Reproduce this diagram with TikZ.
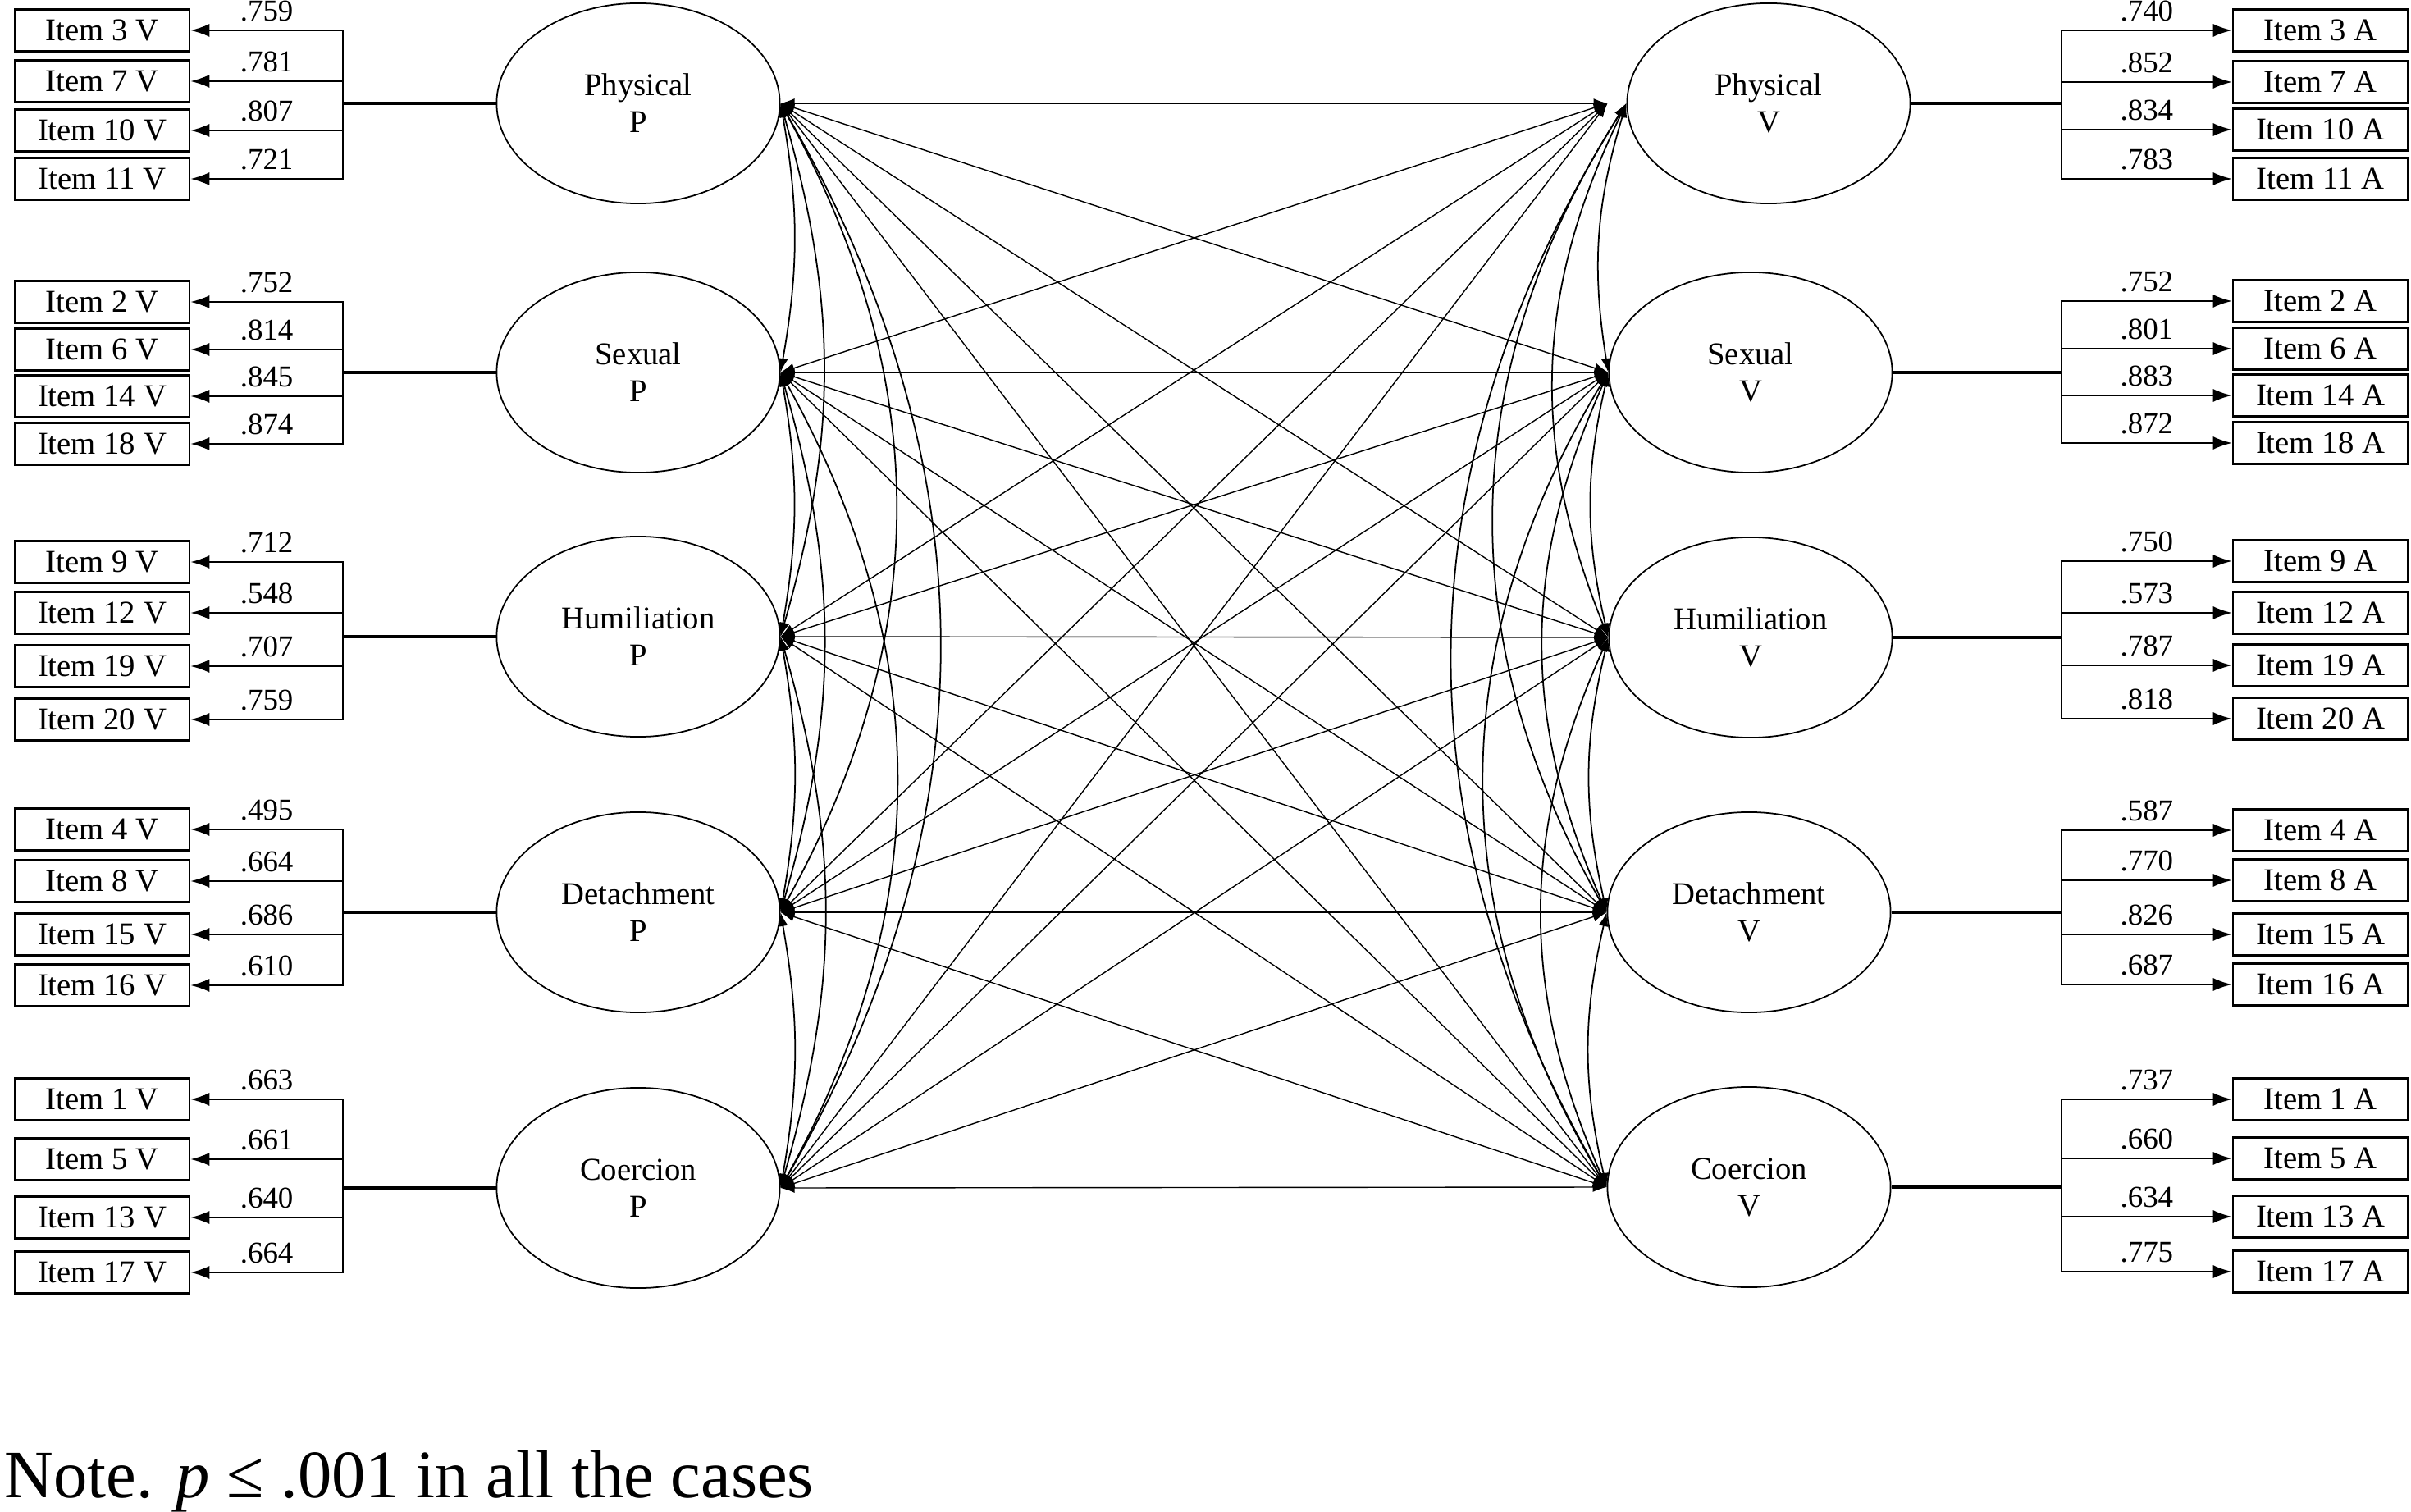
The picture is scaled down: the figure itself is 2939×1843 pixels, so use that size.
\documentclass[tikz,border=0pt]{standalone}
\usepackage{fontspec}
\setmainfont{Liberation Serif}
\usetikzlibrary{shapes.geometric,arrows.meta}

\begin{document}
\begin{tikzpicture}[x=0.01cm, y=-0.01cm,
    item/.style={draw, line width=0.7pt, minimum width=2.13cm, minimum height=0.51cm, inner sep=0pt, font=\fontsize{11}{13}\selectfont},
    factor/.style={draw, ellipse, line width=0.5pt, minimum width=3.45cm, minimum height=2.44cm, inner sep=0pt, align=center, font=\fontsize{11}{12.8}\selectfont},
    load/.style={-{Latex[length=0.23cm,width=0.16cm]}, line width=0.6pt},
    stem/.style={line width=1pt},
    cov/.style={<->, >={Latex[length=0.17cm,width=0.12cm]}, line width=0.4pt},
    coef/.style={pos=0.75, above, inner sep=0.1cm, font=\fontsize{10.5}{12}\selectfont}]

    \useasboundingbox (0,0) rectangle (2939,1843);

    % factors
    \foreach \n/\t/\y in {phys/Physical/126, sex/Sexual/454, hum/Humiliation/776, det/Detachment/1112, coe/Coercion/1448} {
      \node[factor] (\n P) at (778,\y) {\t\\P};
    }
    \foreach \n/\t/\x/\y in {phys/Physical/2156/126, sex/Sexual/2134/454, hum/Humiliation/2134/777, det/Detachment/2132/1112, coe/Coercion/2132/1447} {
      \node[factor] (\n V) at (\x,\y) {\t\\V};
    }

    % items on the left
    \foreach \n/\y/\list in {phys/126/{3/.759/37,7/.781/99,10/.807/159,11/.721/218},
                             sex/454/{2/.752/368,6/.814/426,14/.845/483,18/.874/541},
                             hum/776/{9/.712/685,12/.548/747,19/.707/812,20/.759/877},
                             det/1112/{4/.495/1011,8/.664/1074,15/.686/1139,16/.610/1201},
                             coe/1448/{1/.663/1340,5/.661/1413,13/.640/1484,17/.664/1551}} {
      \coordinate (\n Pj) at (418,\y);
      \draw[stem] (\n Pj) -- (\n P.west);
      \foreach \i/\c/\r in \list {
        \node[item] (\n P\i) at (124.5,\r) {Item \i\ V};
        \draw[load] (\n Pj) |- node[coef] {\c} (\n P\i.east);
      }
    }

    % items on the right
    \foreach \n/\y/\list in {phys/126/{3/.740/37,7/.852/100,10/.834/158,11/.783/218},
                             sex/454/{2/.752/367,6/.801/425,14/.883/482,18/.872/540},
                             hum/777/{9/.750/684,12/.573/747,19/.787/811,20/.818/876},
                             det/1112/{4/.587/1012,8/.770/1073,15/.826/1139,16/.687/1200},
                             coe/1447/{1/.737/1340,5/.660/1412,13/.634/1483,17/.775/1550}} {
      \coordinate (\n Vj) at (2513,\y);
      \draw[stem] (\n V.east) -- (\n Vj);
      \foreach \i/\c/\r in \list {
        \node[item] (\n V\i) at (2828.5,\r) {Item \i\ A};
        \draw[load] (\n Vj) |- node[coef] {\c} (\n V\i.west);
      }
    }

    % covariances between P and V
    \coordinate (physVin) at ([xshift=-0.23cm]physV.west);
    \foreach \a in {physP,sexP,humP,detP,coeP} {
      \foreach \b in {physVin,sexV.west,humV.west,detV.west,coeV.west} {
        \draw[cov] (\a.east) -- (\b);
      }
    }

    % covariances within each side
    \foreach \a/\b/\ang in {physP/sexP/10, sexP/humP/10, humP/detP/10, detP/coeP/10,
                            physP/humP/16, sexP/detP/16, humP/coeP/16,
                            physP/detP/29, sexP/coeP/29, physP/coeP/30} {
      \draw[cov, line width=0.5pt] (\a.east) to[bend left=\ang] (\b.east);
    }
    \foreach \a/\b/\ang in {physV/sexV/13, sexV/humV/13, humV/detV/13, detV/coeV/13,
                            physV/humV/24, sexV/detV/24, humV/coeV/24,
                            physV/detV/31, sexV/coeV/31, physV/coeV/31} {
      \draw[cov, line width=0.5pt] (\a.west) to[bend right=\ang] (\b.west);
    }

    \node[anchor=base west, inner sep=0pt, font=\fontsize{23.5}{28}\selectfont] (note) at (5,1825) {Note. \textit{p} ≤ .001 in all the cases};
\end{tikzpicture}
\end{document}
